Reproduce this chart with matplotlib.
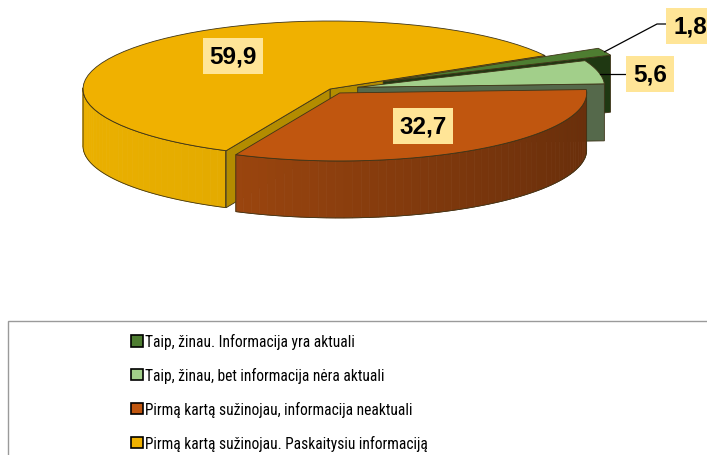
import numpy as np
import matplotlib.pyplot as plt
import matplotlib.colors as mcolors
from matplotlib.patches import Polygon, Rectangle, Patch
from matplotlib import font_manager

# ========== Data ==========
categories = ['Taip, žinau. Informacija yra aktuali',
              'Taip, žinau, bet informacija nėra aktuali',
              'Pirmą kartą sužinojau, informacija neaktuali',
              'Pirmą kartą sužinojau. Paskaitysiu informaciją']
values = [1.8, 5.6, 32.7, 59.9]
value_labels = ['1,8', '5,6', '32,7', '59,9']

# ========== Style ==========
top_colors = ['#4E7D31', '#A2CF8A', '#C0560F', '#F0B100']
side_light = ['#34561F', '#6E8562', '#AE4E10', '#EAB000']
side_dark = ['#1F3812', '#4F6346', '#6A2F0B', '#D49E00']
cut_colors = ['#1F3812', '#55694B', '#7A370C', '#B38C00']
explode = [0.24, 0.115, 0.07, 0.0]
draw_order = [3, 0, 1, 2]          # back to front
label_pos = [(690, 27), (650, 75), (423, 127), (233, 57)]

installed = {f.name for f in font_manager.fontManager.ttflist}
legend_family, legend_size = ['Liberation Sans', 'DejaVu Sans'], 10.5
for name, size in [('Liberation Sans Narrow', 12), ('Arial Narrow', 12),
                   ('Roboto Condensed', 11.2)]:
    if name in installed:
        legend_family, legend_size = [name, 'DejaVu Sans'], size
        break
plt.rcParams['font.family'] = ['Liberation Sans', 'DejaVu Sans']

W, H = 707, 456
fig = plt.figure(figsize=(W / 100, H / 100), dpi=100)
ax = fig.add_axes([0, 0, 1, 1])
ax.set_xlim(0, W)
ax.set_ylim(H, 0)
ax.axis('off')

# pie geometry (pixels): centre, radii, wall depth
cx, cy, rx, ry, depth = 330, 90, 247, 68, 57
start = 29.5
bounds = start - np.concatenate([[0], np.cumsum(values)]) * 360 / sum(values)


def to_px(u, v, d=0.0):
    return cx + rx * u, cy - ry * v + d


def arc(ox, oy, a1, a2, d=0.0, n=60):
    t = np.deg2rad(np.linspace(a1, a2, n))
    return np.column_stack(to_px(ox + np.cos(t), oy + np.sin(t), d))


edge_kw = dict(edgecolor='#3E3418', lw=0.6)
for i in draw_order:
    a1, a2 = bounds[i + 1], bounds[i]
    mid = np.deg2rad((a1 + a2) / 2)
    ox, oy = explode[i] * np.cos(mid), explode[i] * np.sin(mid)
    c0 = np.array(to_px(ox, oy))

    # cut faces that face the viewer
    for a, visible in ((a1, np.cos(np.deg2rad(a1)) > 0),
                       (a2, np.cos(np.deg2rad(a2)) < 0)):
        if visible:
            rim = np.array(to_px(ox + np.cos(np.deg2rad(a)), oy + np.sin(np.deg2rad(a))))
            quad = [c0, rim, rim + [0, depth], c0 + [0, depth]]
            ax.add_patch(Polygon(quad, facecolor=cut_colors[i], **edge_kw))

    # outer wall (front half only), shaded by angle
    a_mod = np.arange(np.floor(a1), np.ceil(a2) + 1, 2.0)
    c_l = np.array(mcolors.to_rgb(side_light[i]))
    c_d = np.array(mcolors.to_rgb(side_dark[i]))
    front = []
    for b1, b2 in zip(a_mod[:-1], a_mod[1:]):
        b1, b2 = max(b1, a1), min(b2, a2)
        if b2 <= b1 or np.sin(np.deg2rad((b1 + b2) / 2)) > 0:
            continue
        top = arc(ox, oy, b1, b2, 0, 4)
        bot = arc(ox, oy, b1, b2, depth, 4)[::-1]
        t = (1 - np.cos(np.deg2rad((b1 + b2) / 2))) / 2
        ax.add_patch(Polygon(np.vstack([top, bot]), facecolor=c_d + (c_l - c_d) * t,
                             edgecolor=c_d + (c_l - c_d) * t, lw=0.5))
        front.append((b1, b2))
    if front:
        w1, w2 = front[0][0], front[-1][1]
        outline = np.vstack([arc(ox, oy, w1, w2, 0), arc(ox, oy, w1, w2, depth)[::-1]])
        ax.add_patch(Polygon(outline, facecolor='none', **edge_kw))

    # top face
    top_face = np.vstack([c0, arc(ox, oy, a1, a2)])
    ax.add_patch(Polygon(top_face, facecolor=top_colors[i], **edge_kw))

# ========== Value labels ==========
box = dict(boxstyle='square,pad=0.28', facecolor='#FFE597', edgecolor='none')
for i in range(len(values)):
    x, y = label_pos[i]
    ax.text(x, y, value_labels[i], ha='center', va='center', fontsize=17.5,
            fontweight='bold', bbox=box, zorder=5)

# leader lines for the two small slices
for i in (0, 1):
    a1, a2 = bounds[i + 1], bounds[i]
    mid = np.deg2rad((a1 + a2) / 2)
    ox, oy = explode[i] * np.cos(mid), explode[i] * np.sin(mid)
    x0, y0 = to_px(ox + np.cos(mid), oy + np.sin(mid))
    if i == 0:
        ax.plot([x0, 657, 670], [y0, 25, 25], color='black', lw=0.9, zorder=4)
    else:
        ax.plot([x0 + 2, 626], [75, 75], color='black', lw=0.9, zorder=4)

# ========== Legend ==========
ax.add_patch(Rectangle((8, 322), 760, 200, facecolor='white', edgecolor='#9A9A9A',
                       lw=1.0))
handles = [Patch(facecolor=c, edgecolor='black', lw=1.2) for c in top_colors]
fig.legend(handles, categories, loc='upper left',
           bbox_to_anchor=(125 / W, 1 - 328 / H), frameon=False,
           handlelength=0.75, handleheight=0.75, handletextpad=0.15,
           labelspacing=1.15, borderaxespad=0,
           prop={'family': legend_family, 'size': legend_size})

fig.savefig('out.png', dpi=100)
